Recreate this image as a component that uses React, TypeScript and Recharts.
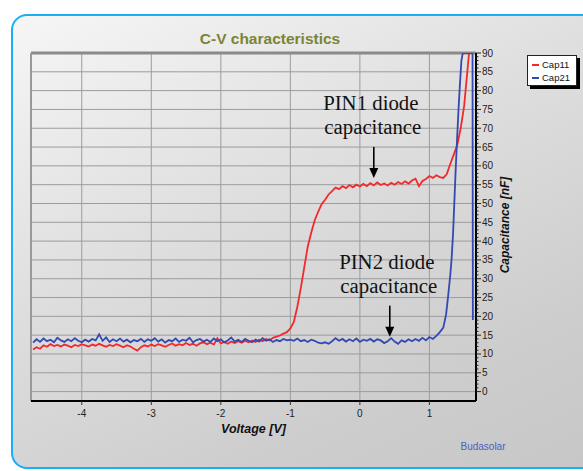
import React from 'react';
import {
  LineChart,
  Line,
  XAxis,
  YAxis,
  CartesianGrid,
  ReferenceLine,
  ReferenceDot,
} from 'recharts';

// ---------- data ----------
const V_START = -4.7;
const V_STEP = 0.05;

// Cap11 (PIN1) from -4.70 V to 1.10 V, every 0.05 V
const cap11Flat = [
  11.2, 11.8, 11.4, 12.3, 11.9, 12.6, 12.1, 12.4, 12.0, 12.5,
  12.2, 11.8, 12.4, 12.1, 12.6, 12.3, 12.0, 12.5, 12.2, 12.7,
  12.3, 11.9, 12.4, 12.1, 12.6, 12.2, 11.8, 12.3, 12.0, 11.4,
  10.9, 11.8, 12.3, 12.0, 12.5, 12.1, 12.6, 12.3, 11.9, 12.4,
  12.8, 12.2, 12.6, 12.3, 12.9, 12.4, 12.7, 12.2, 12.8, 13.1,
  12.6, 13.0, 12.5, 14.2, 12.8, 13.2, 12.7, 13.3, 12.9, 13.4,
  13.0, 13.5, 13.1, 13.6, 13.2, 13.8, 13.4, 14.0, 13.6, 14.3,
  14.6, 14.9, 15.4, 15.8, 16.8, 18.5, 22.5, 27.5, 33.0, 38.5,
  42.2, 45.5, 47.8, 49.8, 51.0, 52.4, 53.3, 54.2, 53.8, 54.6,
  54.1, 54.9, 54.3, 55.0, 54.5, 55.2, 54.6, 55.4, 54.8, 55.6,
  54.9, 55.3, 54.8, 55.5, 55.0, 55.7, 55.2, 55.9, 55.3, 56.1,
  56.6, 54.6, 56.0, 56.5, 57.3, 56.8, 57.5,
];
const cap11TailV = [1.15, 1.2, 1.25, 1.3, 1.35, 1.4, 1.45, 1.5, 1.53, 1.55, 1.57];
const cap11TailC = [57.0, 56.8, 57.8, 60.5, 63.0, 65.5, 70.0, 76.0, 82.0, 86.0, 90.0];

// Cap21 (PIN2) from -4.70 V to 1.10 V, every 0.05 V
const cap21Flat = [
  13.0, 13.9, 13.2, 14.1, 13.4, 13.8, 13.1, 14.3, 13.6, 13.2,
  13.9, 13.4, 14.2, 13.5, 13.1, 13.8, 13.3, 14.0, 13.6, 15.2,
  13.5, 14.4, 13.2, 13.9, 13.4, 14.1, 13.3, 13.8, 13.1, 13.7,
  13.4, 14.0, 13.2, 13.9, 13.5, 14.2, 13.3, 13.9, 13.0, 13.7,
  13.4, 14.1, 13.2, 13.8, 13.5, 14.3, 13.1, 13.7, 14.0, 13.3,
  13.8, 13.2, 14.1, 13.4, 13.9, 13.1, 13.6, 14.4, 13.3, 13.8,
  13.2, 14.0, 13.5, 13.1, 13.8, 13.3, 14.2, 13.5, 13.9, 13.2,
  13.7, 13.4, 14.0, 13.6, 13.8, 13.5, 14.1, 13.4, 13.7, 13.2,
  13.8, 13.5, 13.0, 12.8, 13.1, 12.7, 13.4, 14.2, 13.5, 14.0,
  13.3, 13.9, 13.4, 14.1, 13.2, 13.8, 13.5, 14.0, 13.3, 13.9,
  13.6, 12.9, 13.4, 14.2, 13.3, 12.7, 13.6, 13.2, 13.9, 13.4,
  14.0, 13.5, 14.3, 13.6, 14.5, 14.0, 14.8,
];
const cap21TailV = [1.15, 1.2, 1.24, 1.27, 1.3, 1.32, 1.34, 1.36, 1.38, 1.4, 1.42, 1.44, 1.46, 1.48, 1.52, 1.56, 1.6, 1.62, 1.625];
const cap21TailC = [15.8, 17.0, 20.5, 25.5, 31.0, 35.5, 42.0, 51.0, 60.0, 68.0, 75.5, 82.0, 88.0, 90.0, 90.0, 90.0, 90.0, 90.0, 19.0];

const xTicks = [-4, -3, -2, -1, 0, 1];
const yGridValues = [0, 5, 10, 15, 20, 25, 30, 35, 40, 45, 50, 55, 60, 65, 70, 75, 80, 85];
const yTicks = Array.from({ length: 91 }, (_, i) => i);

const seriesNames = ['Cap11', 'Cap21'];
const seriesColors = ['#f22a2a', '#3349b2'];

const annotations = [
  { v: 0.2, c: 56.8, line1: 'PIN1 diode', line2: 'capacitance' },
  { v: 0.43, c: 14.6, line1: 'PIN2 diode', line2: 'capacitance' },
];

// ---------- build ----------
const toPoints = (flat: number[], tailV: number[], tailC: number[]) => [
  ...flat.map((c, i) => ({ v: Math.round((V_START + i * V_STEP) * 100) / 100, c })),
  ...tailV.map((v, i) => ({ v, c: tailC[i] })),
];
const cap11Data = toPoints(cap11Flat, cap11TailV, cap11TailC);
const cap21Data = toPoints(cap21Flat, cap21TailV, cap21TailC);

const SANS = '"Liberation Sans", Arial, Helvetica, sans-serif';
const SERIF = '"Liberation Serif", "Times New Roman", serif';

const YTick = (props: any) => {
  const { x, y, payload } = props;
  const v = payload.value as number;
  const major = v % 5 === 0;
  return (
    <g>
      <line x1={x} x2={x + (major ? 5 : 2.5)} y1={y} y2={y} stroke="#222" strokeWidth={1} />
      {major && (
        <text x={x + 6} y={y} dy="0.35em" fontSize={10} fill="#222" fontFamily={SANS}>
          {v}
        </text>
      )}
    </g>
  );
};

const Annotation = (text1: string, text2: string) => (props: any) => {
  const { cx, cy } = props;
  if (cx == null || cy == null) return null;
  return (
    <g>
      <line x1={cx} x2={cx} y1={cy - 31} y2={cy - 8} stroke="#000" strokeWidth={1.6} />
      <polygon points={`${cx - 4.5},${cy - 10} ${cx + 4.5},${cy - 10} ${cx},${cy}`} fill="#000" />
      <text x={cx - 3} y={cy - 68} textAnchor="middle" fontSize={20.8} fontFamily={SERIF} fill="#111">
        {text1}
      </text>
      <text x={cx - 1} y={cy - 43.5} textAnchor="middle" fontSize={20.8} fontFamily={SERIF} fill="#111">
        {text2}
      </text>
    </g>
  );
};

export default function App() {
  return (
    <div
      style={{
        position: 'absolute',
        left: 0,
        top: 0,
        width: 583,
        height: 471,
        overflow: 'hidden',
        background: '#ffffff',
        fontFamily: SANS,
      }}
    >
      <div
        style={{
          position: 'absolute',
          left: 11,
          top: 14,
          width: 640,
          height: 455,
          boxSizing: 'border-box',
          border: '2.5px solid #1aaef2',
          borderRadius: 16,
          background: 'linear-gradient(155deg, #f6f6f6 0%, #dedede 40%, #cdcdcd 75%, #c6c6c6 100%)',
        }}
      />
      <div
        style={{
          position: 'absolute',
          left: 170,
          width: 200,
          top: 29,
          textAlign: 'center',
          fontSize: 15.5,
          fontWeight: 'bold',
          color: '#7b8534',
          fontFamily: SANS,
          lineHeight: '20px',
        }}
      >
        C-V characteristics
      </div>
      <div style={{ position: 'absolute', left: 0, top: 0 }}>
        <LineChart width={583} height={471} margin={{ top: 53, right: 67, bottom: 40, left: 31 }}>
          <CartesianGrid
            horizontalValues={yGridValues}
            verticalValues={xTicks}
            stroke="#9c9c9c"
            strokeWidth={1}
          />
          <XAxis
            type="number"
            dataKey="v"
            domain={[-4.73, 1.67]}
            allowDataOverflow
            ticks={xTicks}
            interval={0}
            height={30}
            axisLine={{ stroke: '#000', strokeWidth: 2 }}
            tickLine={{ stroke: '#333' }}
            tickSize={4}
            tickMargin={5}
            tick={{ fontSize: 10, fill: '#222', fontFamily: SANS }}
            label={(p: any) => {
              const vb = p.viewBox || {};
              return (
                <text
                  x={vb.x + vb.width / 2}
                  y={vb.y + 32}
                  textAnchor="middle"
                  fontSize={12.5}
                  fontWeight="bold"
                  fontStyle="italic"
                  fill="#111"
                  fontFamily={SANS}
                >
                  Voltage [V]
                </text>
              );
            }}
          />
          <YAxis
            orientation="right"
            type="number"
            domain={[-2.5, 90]}
            allowDataOverflow
            ticks={yTicks}
            interval={0}
            width={40}
            axisLine={{ stroke: '#000', strokeWidth: 2 }}
            tickLine={false}
            tickSize={0}
            tickMargin={0}
            tick={<YTick />}
            label={(p: any) => {
              const vb = p.viewBox || {};
              const lx = vb.x + 29;
              const ly = 225;
              return (
                <text
                  x={lx}
                  y={ly}
                  transform={`rotate(-90 ${lx} ${ly})`}
                  textAnchor="middle"
                  dy="0.35em"
                  fontSize={12}
                  fontWeight="bold"
                  fontStyle="italic"
                  fill="#111"
                  fontFamily={SANS}
                >
                  Capacitance [nF]
                </text>
              );
            }}
          />
          <ReferenceLine y={90} stroke="#8a8a8a" strokeWidth={3} />
          <ReferenceLine x={-4.73} stroke="#999" strokeWidth={2} />
          <Line
            data={cap11Data}
            dataKey="c"
            name={seriesNames[0]}
            type="linear"
            stroke={seriesColors[0]}
            strokeWidth={1.8}
            dot={false}
            isAnimationActive={false}
          />
          <Line
            data={cap21Data}
            dataKey="c"
            name={seriesNames[1]}
            type="linear"
            stroke={seriesColors[1]}
            strokeWidth={1.8}
            dot={false}
            isAnimationActive={false}
          />
          {annotations.map((a) => (
            <ReferenceDot
              key={a.line1}
              x={a.v}
              y={a.c}
              r={0}
              shape={Annotation(a.line1, a.line2)}
            />
          ))}
        </LineChart>
      </div>
      <div
        style={{
          position: 'absolute',
          left: 527,
          top: 55,
          width: 50,
          height: 31,
          boxSizing: 'border-box',
          border: '1px solid #222',
          background: '#ffffff',
          boxShadow: '3px 3px 0 #000',
          fontSize: 9.5,
          fontFamily: SANS,
          color: '#111',
          paddingTop: 2,
        }}
      >
        {seriesNames.map((n, i) => (
          <div key={n} style={{ display: 'flex', alignItems: 'center', height: 13 }}>
            <span
              style={{
                display: 'inline-block',
                width: 7,
                height: 2,
                background: seriesColors[i],
                marginLeft: 4,
                marginRight: 3,
              }}
            />
            <span>{n}</span>
          </div>
        ))}
      </div>
      <div
        style={{
          position: 'absolute',
          left: 440,
          width: 86,
          top: 441,
          textAlign: 'center',
          fontSize: 10,
          color: '#4b5fc4',
          fontFamily: SANS,
        }}
      >
        Budasolar
      </div>
    </div>
  );
}
